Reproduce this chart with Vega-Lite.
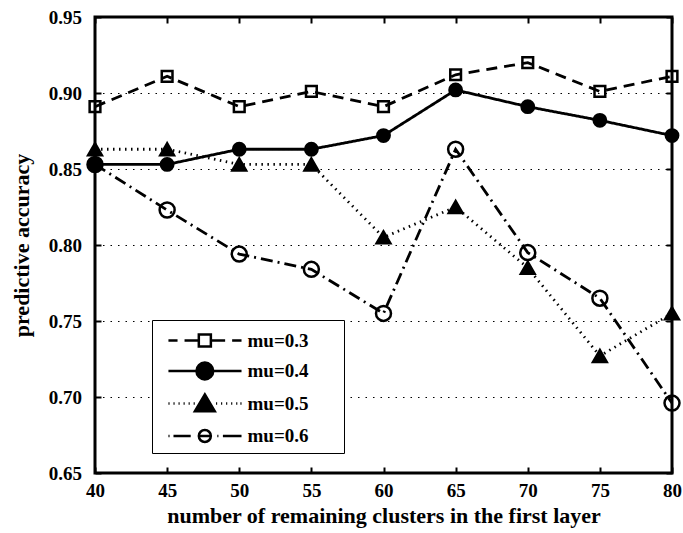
{
  "$schema": "https://vega.github.io/schema/vega-lite/v6.json",
  "width": 577,
  "height": 456,
  "autosize": {"type": "none"},
  "padding": {"left": 95, "top": 17, "right": 11, "bottom": 60},
  "background": "white",
  "config": {
    "view": {"stroke": "black", "strokeWidth": 3},
    "font": "Liberation Serif",
    "axis": {
      "labelFont": "Liberation Serif",
      "labelFontSize": 19,
      "labelFontWeight": "bold",
      "labelColor": "black",
      "titleFont": "Liberation Serif",
      "titleFontSize": 22,
      "titleFontWeight": "bold",
      "titleColor": "black",
      "tickColor": "black",
      "tickWidth": 2,
      "labelFlush": false,
      "labelOverlap": false
    },
    "legend": {
      "title": null, "orient": "none", "legendX": 57, "legendY": 303,
      "symbolSize": 784, "symbolStrokeColor": "black", "symbolStrokeWidth": 2.5, "symbolOpacity": 1,
      "labelFont": "Liberation Serif", "labelFontSize": 19, "labelFontWeight": "bold", "labelColor": "black",
      "labelOffset": 59.5, "padding": 5, "rowPadding": 3.5, "strokeColor": "black", "fillColor": "white"
    }
  },
  "data": {
    "values": [
      {"x": 40, "y": 0.891, "series": "mu=0.3"},
      {"x": 45, "y": 0.911, "series": "mu=0.3"},
      {"x": 50, "y": 0.891, "series": "mu=0.3"},
      {"x": 55, "y": 0.901, "series": "mu=0.3"},
      {"x": 60, "y": 0.891, "series": "mu=0.3"},
      {"x": 65, "y": 0.912, "series": "mu=0.3"},
      {"x": 70, "y": 0.920, "series": "mu=0.3"},
      {"x": 75, "y": 0.901, "series": "mu=0.3"},
      {"x": 80, "y": 0.911, "series": "mu=0.3"},
      {"x": 40, "y": 0.853, "series": "mu=0.4"},
      {"x": 45, "y": 0.853, "series": "mu=0.4"},
      {"x": 50, "y": 0.863, "series": "mu=0.4"},
      {"x": 55, "y": 0.863, "series": "mu=0.4"},
      {"x": 60, "y": 0.872, "series": "mu=0.4"},
      {"x": 65, "y": 0.902, "series": "mu=0.4"},
      {"x": 70, "y": 0.891, "series": "mu=0.4"},
      {"x": 75, "y": 0.882, "series": "mu=0.4"},
      {"x": 80, "y": 0.872, "series": "mu=0.4"},
      {"x": 40, "y": 0.863, "series": "mu=0.5"},
      {"x": 45, "y": 0.863, "series": "mu=0.5"},
      {"x": 50, "y": 0.853, "series": "mu=0.5"},
      {"x": 55, "y": 0.853, "series": "mu=0.5"},
      {"x": 60, "y": 0.805, "series": "mu=0.5"},
      {"x": 65, "y": 0.825, "series": "mu=0.5"},
      {"x": 70, "y": 0.785, "series": "mu=0.5"},
      {"x": 75, "y": 0.727, "series": "mu=0.5"},
      {"x": 80, "y": 0.755, "series": "mu=0.5"},
      {"x": 40, "y": 0.853, "series": "mu=0.6"},
      {"x": 45, "y": 0.823, "series": "mu=0.6"},
      {"x": 50, "y": 0.794, "series": "mu=0.6"},
      {"x": 55, "y": 0.784, "series": "mu=0.6"},
      {"x": 60, "y": 0.755, "series": "mu=0.6"},
      {"x": 65, "y": 0.863, "series": "mu=0.6"},
      {"x": 70, "y": 0.795, "series": "mu=0.6"},
      {"x": 75, "y": 0.765, "series": "mu=0.6"},
      {"x": 80, "y": 0.696, "series": "mu=0.6"}
    ]
  },
  "layer": [
    {
      "mark": {"type": "line", "color": "black", "strokeWidth": 2.8},
      "encoding": {
        "x": {
          "field": "x", "type": "quantitative",
          "scale": {"domain": [40, 80], "nice": false, "zero": false},
          "axis": {"orient": "top", "labels": false, "title": null, "domain": false, "grid": false, "tickSize": -6, "values": [40, 45, 50, 55, 60, 65, 70, 75, 80]}
        },
        "y": {
          "field": "y", "type": "quantitative",
          "scale": {"domain": [0.65, 0.95], "nice": false, "zero": false},
          "axis": {"orient": "right", "labels": false, "title": null, "domain": false, "grid": false, "tickSize": -6, "values": [0.65, 0.7, 0.75, 0.8, 0.85, 0.9, 0.95]}
        },
        "strokeDash": {
          "field": "series", "type": "nominal",
          "scale": {"domain": ["mu=0.3", "mu=0.4", "mu=0.5", "mu=0.6"], "range": [[11, 7], [1, 0], [1.5, 4.5], [12, 5, 2, 5]]},
          "legend": null
        }
      }
    },
    {
      "mark": {"type": "point", "stroke": "black", "strokeWidth": 2.5, "opacity": 1},
      "encoding": {
        "x": {
          "field": "x", "type": "quantitative",
          "scale": {"domain": [40, 80], "nice": false, "zero": false},
          "axis": {"orient": "bottom", "title": "number of remaining clusters in the first layer", "domain": false, "grid": false, "tickSize": -6, "labelPadding": 14, "titlePadding": 5, "values": [40, 45, 50, 55, 60, 65, 70, 75, 80]}
        },
        "y": {
          "field": "y", "type": "quantitative",
          "scale": {"domain": [0.65, 0.95], "nice": false, "zero": false},
          "axis": {"orient": "left", "title": "predictive accuracy", "format": ".2f", "domain": false, "grid": true, "gridColor": "black", "gridDash": [1.5, 6], "gridWidth": 1.2, "tickSize": -6, "labelPadding": 19.5, "titlePadding": 15, "values": [0.65, 0.7, 0.75, 0.8, 0.85, 0.9, 0.95]}
        },
        "shape": {
          "field": "series", "type": "nominal",
          "scale": {"domain": ["mu=0.3", "mu=0.4", "mu=0.5", "mu=0.6"], "range": ["square", "circle", "triangle-up", "circle"]},
          "legend": null
        },
        "fill": {
          "field": "series", "type": "nominal",
          "scale": {"domain": ["mu=0.3", "mu=0.4", "mu=0.5", "mu=0.6"], "range": ["transparent", "black", "black", "transparent"]},
          "legend": null
        },
        "size": {
          "field": "series", "type": "nominal",
          "scale": {"domain": ["mu=0.3", "mu=0.4", "mu=0.5", "mu=0.6"], "range": [115, 225, 390, 200]},
          "legend": null
        }
      }
    },
    {
      "transform": [{"filter": "false"}],
      "mark": {"type": "point", "stroke": "black", "strokeWidth": 2.5, "size": 784, "opacity": 1},
      "encoding": {
        "shape": {
          "field": "series", "type": "nominal",
          "scale": {
            "domain": ["mu=0.3", "mu=0.4", "mu=0.5", "mu=0.6"],
            "range": [
              "M11.5,0M-0.29,0H0.36M0.86,0H1.88M1.88,-0.43H2.74V0.43H1.88ZM2.74,0H3.76M4.26,0H4.93",
              "M11.5,0M-0.29,0H4.93M1.71,0A0.6,0.6,0,1,1,2.91,0A0.6,0.6,0,1,1,1.71,0Z",
              "M11.5,0M2.31,-0.65L3.02,0.55L1.6,0.55ZM-0.29,0h0.08M0.07,0h0.08M0.43,0h0.08M0.79,0h0.08M1.15,0h0.08M1.51,0h0.08M3.11,0h0.08M3.47,0h0.08M3.83,0h0.08M4.19,0h0.08M4.55,0h0.08M4.85,0h0.08",
              "M11.5,0M-0.29,0h0.08M0.07,0H1.3M1.88,0H2.74M1.88,0A0.43,0.43,0,1,1,2.74,0A0.43,0.43,0,1,1,1.88,0ZM3.2,0h0.08M3.6,0H4.93"
            ]
          },
          "legend": {}
        },
        "fill": {
          "field": "series", "type": "nominal",
          "scale": {"domain": ["mu=0.3", "mu=0.4", "mu=0.5", "mu=0.6"], "range": ["transparent", "black", "black", "transparent"]},
          "legend": {}
        },
        "stroke": {
          "field": "series", "type": "nominal",
          "scale": {"domain": ["mu=0.3", "mu=0.4", "mu=0.5", "mu=0.6"], "range": ["black", "black", "black", "black"]},
          "legend": {}
        }
      }
    }
  ],
  "resolve": {"scale": {"shape": "independent", "fill": "independent", "stroke": "independent"}}
}
